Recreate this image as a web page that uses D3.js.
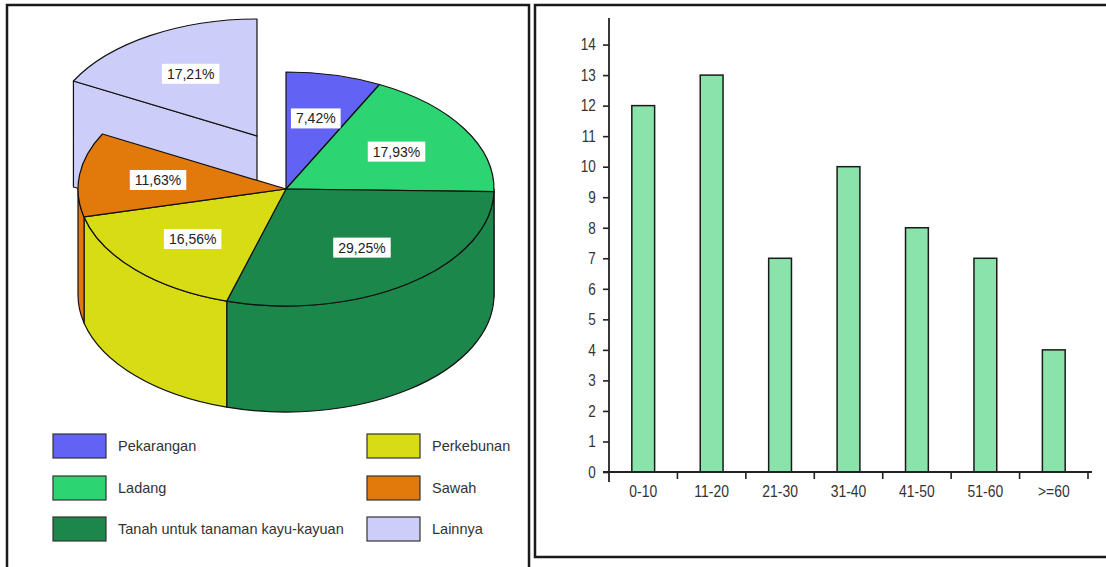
<!DOCTYPE html>
<html>
<head>
<meta charset="utf-8">
<script src="https://cdn.jsdelivr.net/npm/d3@7"></script>
<style>
  html, body { margin: 0; padding: 0; background: #fff; }
  svg { display: block; }
</style>
</head>
<body>
<svg id="chart" width="1106" height="567"></svg>
<script>
// ---- Land use shares (percent), drawn as a 3D pie ----
const landCategories = ["Pekarangan", "Ladang", "Tanah untuk tanaman kayu-kayuan", "Perkebunan", "Sawah", "Lainnya"];
const landShares = [7.42, 17.93, 29.25, 16.56, 11.63, 17.21];
const landLabels = ["7,42%", "17,93%", "29,25%", "16,56%", "11,63%", "17,21%"];
const landColors = ["#6262F4", "#2CD572", "#1C874B", "#D8DC14", "#E27A0B", "#CDCDF9"];
const explodedCategory = "Lainnya";

// ---- Counts per age group, drawn as a bar chart ----
const ageGroups = ["0-10", "11-20", "21-30", "31-40", "41-50", "51-60", ">=60"];
const ageCounts = [12, 13, 7, 10, 8, 7, 4];
const countTicks = [0, 1, 2, 3, 4, 5, 6, 7, 8, 9, 10, 11, 12, 13, 14];

const svg = d3.select("#chart");

// Panel frames
svg.append("rect").attr("x", 7).attr("y", 5).attr("width", 522).attr("height", 580)
  .attr("fill", "#fff").attr("stroke", "#1a1a1a").attr("stroke-width", 2.5);
svg.append("rect").attr("x", 535).attr("y", 5).attr("width", 580).attr("height", 552)
  .attr("fill", "#fff").attr("stroke", "#1a1a1a").attr("stroke-width", 2.5);

// ================= 3D pie =================
const P = { cx: 286, cy: 189, rx: 208, ry: 117, depth: 106, explode: { dx: -29, dy: -53 }, labelR: 0.62 };

const rows = landCategories.map((c, i) => ({ name: c, share: landShares[i], label: landLabels[i], color: landColors[i] }));
const arcs = d3.pie().sort(null).value(d => d.share)(rows);

function pt(a, ox, oy, dz = 0) {
  return [ox + P.rx * Math.sin(a), oy - P.ry * Math.cos(a) + dz];
}
function origin(d) {
  return d.data.name === explodedCategory ? [P.cx + P.explode.dx, P.cy + P.explode.dy] : [P.cx, P.cy];
}
function topPath(d) {
  const [ox, oy] = origin(d);
  const p0 = pt(d.startAngle, ox, oy), p1 = pt(d.endAngle, ox, oy);
  const large = d.endAngle - d.startAngle > Math.PI ? 1 : 0;
  return `M${ox},${oy}L${p0}A${P.rx},${P.ry} 0 ${large} 1 ${p1}Z`;
}
function outerSidePath(d) {
  const s = Math.max(d.startAngle, Math.PI / 2), e = Math.min(d.endAngle, 3 * Math.PI / 2);
  if (s >= e) return null;
  const [ox, oy] = origin(d);
  const large = e - s > Math.PI ? 1 : 0;
  const a = pt(s, ox, oy), b = pt(e, ox, oy), bb = pt(e, ox, oy, P.depth), ab = pt(s, ox, oy, P.depth);
  return `M${a}A${P.rx},${P.ry} 0 ${large} 1 ${b}L${bb}A${P.rx},${P.ry} 0 ${large} 0 ${ab}Z`;
}
function cutFacePath(d, angle) {
  const [ox, oy] = origin(d);
  const p = pt(angle, ox, oy), pb = pt(angle, ox, oy, P.depth);
  return `M${ox},${oy}L${p}L${pb}L${ox},${oy + P.depth}Z`;
}

const pieG = svg.append("g");
const exploded = arcs.filter(d => d.data.name === explodedCategory);
const body = arcs.filter(d => d.data.name !== explodedCategory);

function drawSolid(list, withCutFaces) {
  const sides = [];
  list.forEach(d => {
    if (withCutFaces) {
      // a cut face is visible when its outward normal points toward the viewer
      if (-Math.sin(d.startAngle) > 1e-6) sides.push({ d, path: cutFacePath(d, d.startAngle) });
      if (Math.sin(d.endAngle) > 1e-6) sides.push({ d, path: cutFacePath(d, d.endAngle) });
    }
    const o = outerSidePath(d);
    if (o) sides.push({ d, path: o });
  });
  pieG.selectAll(null).data(sides).enter().append("path")
    .attr("d", s => s.path).attr("fill", s => s.d.data.color)
    .attr("stroke", "#111").attr("stroke-width", 1.2).attr("stroke-linejoin", "round");
  pieG.selectAll(null).data(list).enter().append("path")
    .attr("d", topPath).attr("fill", d => d.data.color)
    .attr("stroke", "#111").attr("stroke-width", 1.2).attr("stroke-linejoin", "round");
}
drawSolid(exploded, true);
drawSolid(body, false);

// Percentage labels in white boxes
const lab = pieG.selectAll(".lab").data(arcs).enter().append("g").attr("class", "lab")
  .attr("transform", d => {
    const [ox, oy] = origin(d);
    const m = (d.startAngle + d.endAngle) / 2;
    const x = ox + P.rx * P.labelR * Math.sin(m), y = oy - P.ry * P.labelR * Math.cos(m);
    return `translate(${x},${y})`;
  });
const labText = lab.append("text").text(d => d.data.label)
  .attr("text-anchor", "middle").attr("dy", "0.36em")
  .attr("font-family", "Liberation Sans, Arial, sans-serif").attr("font-size", 14)
  .attr("fill", "#222");
labText.each(function () {
  const w = this.getComputedTextLength();
  d3.select(this.parentNode).insert("rect", "text")
    .attr("x", -w / 2 - 5).attr("y", -10).attr("width", w + 10).attr("height", 20)
    .attr("fill", "#fff");
});

// Legend (two columns, three rows)
const legendCols = [53, 367], legendRows = [434, 476, 517];
const leg = svg.append("g").selectAll("g").data(rows).enter().append("g")
  .attr("transform", (d, i) => `translate(${legendCols[Math.floor(i / 3)]},${legendRows[i % 3]})`);
leg.append("rect").attr("width", 53).attr("height", 24)
  .attr("fill", d => d.color).attr("stroke", "#333").attr("stroke-width", 1.2);
leg.append("text").text(d => d.name).attr("x", 65).attr("y", 12).attr("dy", "0.35em")
  .attr("font-family", "Liberation Sans, Arial, sans-serif").attr("font-size", 14.5).attr("fill", "#333");

// ================= Bar chart =================
const B = { left: 609, right: 1088, top: 18, bottom: 472 };
const x = d3.scaleBand().domain(ageGroups).range([B.left, B.right]).padding(0);
const y = d3.scaleLinear().domain([0, 14.87]).range([B.bottom, B.top]);
const barG = svg.append("g");
const font = "'Liberation Sans', Arial, sans-serif";
const condensed = "scale(0.82,1)";   // narrow lettering for the axis labels

barG.selectAll("rect.bar").data(ageCounts).enter().append("rect").attr("class", "bar")
  .attr("x", (d, i) => x(ageGroups[i]) + x.bandwidth() / 3)
  .attr("width", x.bandwidth() / 3)
  .attr("y", d => y(d))
  .attr("height", d => y(0) - y(d))
  .attr("fill", "#8BE3AC").attr("stroke", "#1a1a1a").attr("stroke-width", 1.5);

// y axis
const yAxis = barG.append("g").attr("transform", `translate(${B.left},0)`)
  .call(d3.axisLeft(y).tickValues(countTicks).tickFormat(d3.format("d")).tickSize(6).tickPadding(10));
yAxis.select(".domain").remove();
yAxis.selectAll(".tick line").attr("stroke", "#222").attr("stroke-width", 1.6);
yAxis.selectAll("text").attr("font-family", font).attr("font-size", 16.5).attr("fill", "#333")
  .attr("transform", condensed);
barG.append("line").attr("x1", B.left).attr("x2", B.left).attr("y1", B.top).attr("y2", B.bottom + 10)
  .attr("stroke", "#222").attr("stroke-width", 1.8);

// x axis: labels centred under bars, ticks at group boundaries
const xAxis = barG.append("g").attr("transform", `translate(0,${B.bottom})`)
  .call(d3.axisBottom(x).tickSize(0).tickPadding(13));
xAxis.select(".domain").remove();
xAxis.selectAll("text").attr("font-family", font).attr("font-size", 17).attr("fill", "#333")
  .attr("transform", condensed);
barG.append("line").attr("x1", B.left - 6).attr("x2", B.right + 4).attr("y1", B.bottom).attr("y2", B.bottom)
  .attr("stroke", "#222").attr("stroke-width", 1.8);
barG.selectAll("line.xt").data(ageGroups).enter().append("line").attr("class", "xt")
  .attr("x1", d => x(d) + x.step()).attr("x2", d => x(d) + x.step())
  .attr("y1", B.bottom).attr("y2", B.bottom + 7)
  .attr("stroke", "#222").attr("stroke-width", 1.6);
</script>
</body>
</html>
